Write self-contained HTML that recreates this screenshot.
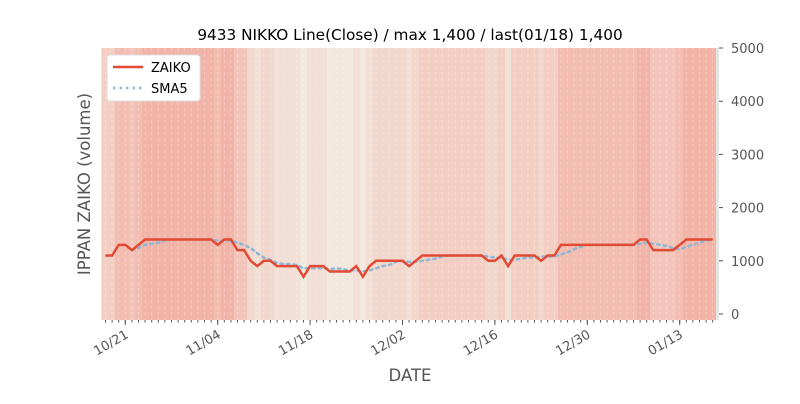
<!DOCTYPE html>
<html><head><meta charset="utf-8"><style>
body{margin:0;background:#fff;font-family:"DejaVu Sans","Liberation Sans",sans-serif}
</style></head><body>
<svg id="c" width="800" height="400" xmlns="http://www.w3.org/2000/svg" font-family="DejaVu Sans, Liberation Sans, sans-serif"></svg>
<script>
const startDate = [2018, 9, 18];
const zaiko = [1100,1100,1300,1300,1200,1300,1400,1400,1400,1400,1400,1400,1400,1400,1400,1400,1400,1300,1400,1400,1200,1200,1000,900,1000,1000,900,900,900,900,700,900,900,900,800,800,800,800,900,700,900,1000,1000,1000,1000,1000,900,1000,1100,1100,1100,1100,1100,1100,1100,1100,1100,1100,1000,1000,1100,900,1100,1100,1100,1100,1000,1100,1100,1300,1300,1300,1300,1300,1300,1300,1300,1300,1300,1300,1300,1400,1400,1200,1200,1200,1200,1300,1400,1400,1400,1400,1400];
const yTicks = [0,1000,2000,3000,4000,5000];
const xTickIdx = [3,17,31,45,59,73,87];
const xTickLabels = ["10/21","11/04","11/18","12/02","12/16","12/30","01/13"];

const NS="http://www.w3.org/2000/svg", svg=document.getElementById('c');
function mk(t,a,p){const e=document.createElementNS(NS,t);for(const k in a)e.setAttribute(k,a[k]);(p||svg).appendChild(e);return e;}
const L=101,R=719,T=48,B=320, x0=105.5, dx=6.6;
const X=i=>x0+i*dx, Y=v=>314-v*(266/5000);
mk('rect',{x:L,y:T,width:R-L,height:B-T,fill:'#e5e5e5'});
function col(v){const t=Math.max(0,Math.min(1,(v-800)/600));
 const a=[242,232,222],b=[243,180,168];return `rgb(${a.map((c,k)=>Math.round(c+(b[k]-c)*t)).join(',')})`;}
zaiko.forEach((v,i)=>{const x1=Math.round(X(i)-dx/2),x2=Math.round(X(i)+dx/2);
const r=mk('rect',{x:x1,y:T,width:x2-x1,height:B-T,fill:col(v),'shape-rendering':'crispEdges'});

});
zaiko.forEach((v,i)=>{mk('line',{x1:X(i),y1:T,x2:X(i),y2:B,stroke:'#fff','stroke-opacity':0.35,'stroke-width':0.8,'stroke-dasharray':'3,3'});});
// SMA
const sma=[];for(let i=4;i<zaiko.length;i++){let s=0;for(let k=i-4;k<=i;k++)s+=zaiko[k];sma.push([i,s/5]);}
const sp=mk('polyline',{points:sma.map(([i,v])=>X(i)+','+Y(v)).join(' '),fill:'none',stroke:'#8fb8d8','stroke-width':2.5,'stroke-dasharray':'2.5,4','stroke-linecap':'round'});

const zp=mk('polyline',{points:zaiko.map((v,i)=>X(i)+','+Y(v)).join(' '),fill:'none',stroke:'#e24a33','stroke-width':2.5});

// y axis
yTicks.forEach(v=>{mk('line',{x1:R,y1:Y(v),x2:R+4,y2:Y(v),stroke:'#555'});
const t=mk('text',{x:R+12,y:Y(v)+5,'font-size':13,fill:'#555'});t.textContent=v;
});
// x ticks
zaiko.forEach((v,i)=>mk('line',{x1:X(i),y1:B,x2:X(i),y2:B+2.5,stroke:'#555'}));
xTickIdx.forEach((i,k)=>{mk('line',{x1:X(i),y1:B,x2:X(i),y2:B+5,stroke:'#555'});
const t=mk('text',{x:X(i)+4,y:B+17,'font-size':13,fill:'#555','text-anchor':'end',transform:`rotate(-30 ${X(i)+4} ${B+17})`});t.textContent=xTickLabels[k];
});
let t=mk('text',{x:410,y:40,'font-size':15.3,fill:'#000','text-anchor':'middle'});t.textContent='9433 NIKKO Line(Close) / max 1,400 / last(01/18) 1,400';

t=mk('text',{x:410,y:381,'font-size':16.5,fill:'#555','text-anchor':'middle'});t.textContent='DATE';

t=mk('text',{x:90,y:184,'font-size':16.5,fill:'#555','text-anchor':'middle',transform:'rotate(-90 90 184)'});t.textContent='IPPAN ZAIKO (volume)';

// legend
const g=mk('g',{});
mk('rect',{x:107,y:55,width:93,height:46,rx:3,fill:'#fff',stroke:'#ddd'},g);
mk('line',{x1:113,y1:67,x2:143,y2:67,stroke:'#e24a33','stroke-width':2.5},g);
mk('line',{x1:113,y1:88,x2:143,y2:88,stroke:'#8fb8d8','stroke-width':2.5,'stroke-dasharray':'2.5,4'},g);
t=mk('text',{x:151,y:72,'font-size':13,fill:'#000'},g);t.textContent='ZAIKO';
t=mk('text',{x:151,y:93,'font-size':13,fill:'#000'},g);t.textContent='SMA5';
</script>
</body></html>
